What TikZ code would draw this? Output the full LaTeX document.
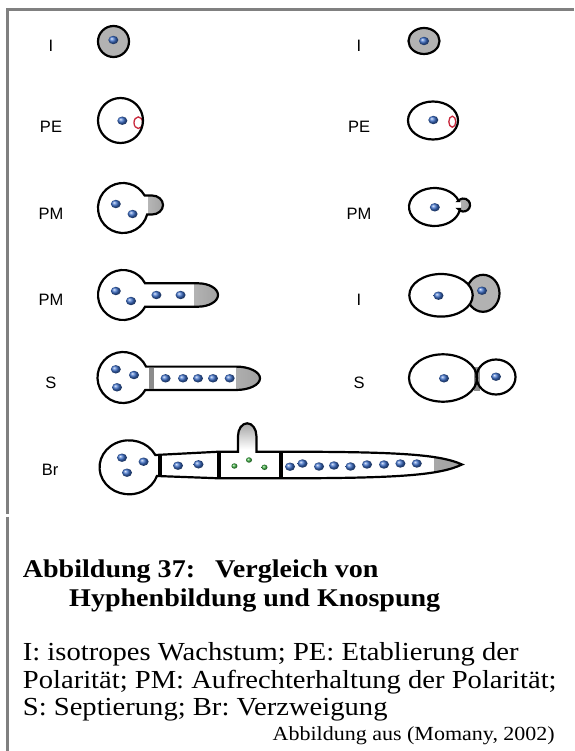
\documentclass[tikz,border=0pt]{standalone}
\usepackage{fontspec}
\setmainfont{Liberation Serif}[FakeStretch=1.1]
\newfontfamily\labelfont{Liberation Sans}
\definecolor{framegray}{RGB}{128,128,128}
\definecolor{cellgray}{RGB}{178,178,178}
\definecolor{tipgray}{RGB}{160,160,160}
\definecolor{septgray}{RGB}{140,140,140}
\definecolor{nucblue}{RGB}{60,110,200}
\definecolor{nucgreen}{RGB}{60,175,65}
\definecolor{polred}{RGB}{200,40,60}
\frenchspacing

\begin{document}
\begin{tikzpicture}[x=1pt,y=-1pt,
    wall/.style={draw=black,line width=2.2pt,fill=white},
    septum/.style={draw=black,line width=3.4pt},
    lbl/.style={font=\labelfont\fontsize{16.5}{19}\selectfont,inner sep=0pt},
    captext/.style={anchor=base west,inner sep=0pt,font=\fontsize{26}{28}\selectfont},
    head/.style={anchor=base west,inner sep=0pt,font=\bfseries\fontsize{25.5}{28}\selectfont}]
  \useasboundingbox (0,0) rectangle (574,751);
  \draw[framegray,line width=2.3pt] (7.5,514) -- (7.5,9.5) -- (574,9.5);
  \draw[framegray,line width=2.3pt] (7.5,516.5) -- (7.5,751);

  \node[lbl] (iL)   at (51,46)    {I};
  \node[lbl] (peL)  at (51,126.7) {PE};
  \node[lbl] (pmL)  at (51,214)   {PM};
  \node[lbl] (pm2L) at (51,300)   {PM};
  \node[lbl] (sL)   at (51,383.3) {S};
  \node[lbl] (brL)  at (50,470)   {Br};
  \node[lbl] (iR)   at (359,46)    {I};
  \node[lbl] (peR)  at (359,126.7) {PE};
  \node[lbl] (pmR)  at (359,214)   {PM};
  \node[lbl] (i2R)  at (359,300)   {I};
  \node[lbl] (sR)   at (359,383.3) {S};

  % hyphae, left column
  \draw[wall,fill=cellgray] (113.5,41.5) circle (15.5);
  \draw[wall,path picture={\draw[polred,line width=1.3pt] (138.3,122.7) ellipse (4.3 and 5.8);}]
    (120.5,120.5) circle (22.5);
  \draw[wall,path picture={\shade[left color=white,right color=tipgray] (148,190) rectangle (164,220);}]
    (144.65,195.5) arc[start angle=-30,end angle=-344.93,radius=25] -- (152,214.5)
    arc[start angle=90,end angle=-90,x radius=11,y radius=9.5] -- cycle;
  \draw[wall,path picture={\shade[left color=white,right color=tipgray] (194,280) rectangle (219,310);}]
    (145.1,283.3) arc[start angle=-27.9,end angle=-332.1,radius=25] -- (198,306.7)
    arc[start angle=90,end angle=-90,x radius=20,y radius=11.7] -- cycle;
  \draw[wall,path picture={\shade[left color=white,right color=tipgray] (236,360) rectangle (261,395);}]
    (146.06,366.6) arc[start angle=-25.3,end angle=-330.65,radius=25.5] -- (236,390)
    arc[start angle=90,end angle=-90,x radius=24,y radius=11.7] -- cycle;
  \draw[septgray,line width=5pt] (151,367.5) -- (151,389);
  \draw[wall,path picture={
      \shade[left color=white,right color=tipgray] (434,445) rectangle (463,485);
      \shade[top color=tipgray,bottom color=white] (236,422) rectangle (258,449);}]
    (155.3,455) arc[start angle=-27.1,end angle=-341.2,x radius=29.5,y radius=27]
    -- (219,478.3) -- (281,478.3) .. controls (400,478.3) and (440,475) .. (462,464.5)
    .. controls (440,454.5) and (400,451.7) .. (281,451.7) -- (256.4,451.7) -- (256.4,436)
    arc[start angle=0,end angle=-180,x radius=9.2,y radius=12.7] -- (238,451.7)
    -- (219,451.7) -- cycle;
  \draw[septum] (160,455) -- (160,476);
  \draw[septum] (219,451.7) -- (219,478.3);
  \draw[septum] (281,451.7) -- (281,478.3);

  % budding yeast, right column
  \draw[wall,fill=cellgray] (424,41) ellipse (15.5 and 13);
  \draw[wall,path picture={\draw[polred,line width=1.3pt] (452.3,121.7) ellipse (3.5 and 5.5);}]
    (433,120.5) ellipse (25 and 19);
  \draw[wall,path picture={\shade[left color=white,right color=tipgray] (461,196) rectangle (471,214);}]
    (458.7,201) arc[start angle=-18.4,end angle=-353.96,x radius=25.5,y radius=19]
    -- (458.4,209) arc[start angle=142.03,end angle=-142.03,radius=6.5] -- cycle;
  \draw[wall,fill=cellgray] (483,293.3) ellipse (16.5 and 18.5);
  \draw[wall] (441,295.3) ellipse (31.7 and 21.3);
  \fill[white] (443,378) ellipse (34 and 23.7);
  \fill[white] (496,377) ellipse (19.5 and 17.5);
  \fill[septgray] (474,367) rectangle (480,391);
  \draw[wall,fill=none] (443,378) ellipse (34 and 23.7);
  \draw[wall,fill=none] (496,377) ellipse (19.5 and 17.5);

  % nuclei
  \foreach \x/\y in {113.3/40, 122.3/120.7, 115.8/204, 132.6/214,
      115.8/291, 131/301, 156.4/295, 180.6/295,
      115.8/369.3, 134/375, 117/387.3, 165.6/378.3, 183/378.3, 198/378.3, 213/378.3, 229.7/378.3,
      122/457.7, 143.6/461.7, 127/472.7, 178/465.7, 198.5/464.3,
      290/466.7, 302.5/463.5, 319/466.5, 334/465.5, 350.5/466.5, 367/464.5, 384/464.5, 400.4/463.5, 416.8/463.5,
      424/41, 433.3/120, 434.8/207.3, 438.5/295.7, 482/290.7, 444/378.3, 496/376.7}
    \shade[ball color=nucblue] (\x,\y) ellipse (5 and 4.2);
  \foreach \x/\y in {234.4/466, 249/460, 264.5/467.3}
    \shade[ball color=nucgreen] (\x,\y) ellipse (3 and 2.7);

  \node[head] (capA) at (22.7,577) {Abbildung 37:};
  \node[head] (capB) at (215,577) {Vergleich von};
  \node[head] (capC) at (69,606) {Hyphenbildung und Knospung};
  \node[captext] (txtA) at (22.7,660) {I: isotropes Wachstum; PE: Etablierung der};
  \node[captext] (txtB) at (22.7,688) {Polarität; PM: Aufrechterhaltung der Polarität;};
  \node[captext] (txtC) at (22.7,715) {S: Septierung; Br: Verzweigung};
  \node[anchor=base east,inner sep=0pt,font=\fontsize{20}{22}\selectfont] (src) at (555,740)
    {Abbildung aus (Momany, 2002)};
\end{tikzpicture}
\end{document}
